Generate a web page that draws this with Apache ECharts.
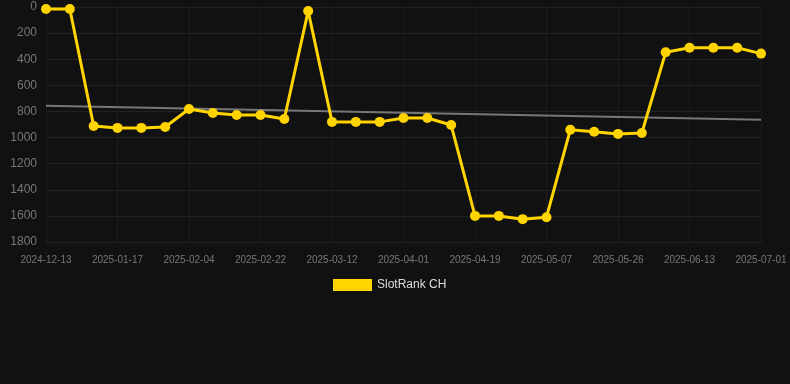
<!DOCTYPE html>
<html><head><meta charset="utf-8">
<script src="https://cdn.jsdelivr.net/npm/echarts@6/dist/echarts.min.js"></script>
<style>html,body{margin:0;padding:0;background:#111111;}#c{width:790px;height:384px;}</style>
</head><body><div id="c"></div>
<script>
const categories = ["2024-12-13","2025-01-05","2025-01-11","2025-01-17","2025-01-23","2025-01-29","2025-02-04","2025-02-10","2025-02-16","2025-02-22","2025-02-28","2025-03-06","2025-03-12","2025-03-18","2025-03-25","2025-04-01","2025-04-07","2025-04-13","2025-04-19","2025-04-25","2025-05-01","2025-05-07","2025-05-13","2025-05-20","2025-05-26","2025-06-01","2025-06-07","2025-06-13","2025-06-19","2025-06-25","2025-07-01"];
const rankValues = [15,15,911,926,926,919,781,812,827,827,858,31,880,880,880,850,850,904,1600,1600,1625,1610,940,955,972,965,347,312,312,312,357];
const trendStart = 756;
const trendEnd = 863;
const yTicks = {min:0, max:1800, interval:200};
const seriesName = "SlotRank CH";

const trendData = categories.map((c,i)=> i===0 ? trendStart : (i===categories.length-1 ? trendEnd : null));

const chart = echarts.init(document.getElementById('c'));
chart.setOption({
  backgroundColor:'#111111',
  animation:false,
  grid:{left:46,right:29,top:7,bottom:142,containLabel:false},
  legend:{
    data:[{name:seriesName, icon:'rect'}],
    top:274, left:328, padding:5,
    itemWidth:39, itemHeight:12, itemGap:10,
    textStyle:{color:'#dddddd', fontSize:12, fontFamily:'Liberation Sans, Arial, sans-serif'}
  },
  xAxis:{
    type:'category', data:categories, boundaryGap:false,
    axisLine:{show:false}, axisTick:{show:false},
    axisLabel:{color:'#777777', fontSize:10, interval:2, margin:13, fontFamily:'Liberation Sans, Arial, sans-serif'},
    splitLine:{show:true, interval:2, lineStyle:{color:'#1c1c1c', width:1}}
  },
  yAxis:{
    type:'value', inverse:true, min:yTicks.min, max:yTicks.max, interval:yTicks.interval,
    axisLine:{show:false}, axisTick:{show:false},
    axisLabel:{color:'#777777', fontSize:12, margin:9, formatter:(v)=>String(v), fontFamily:'Liberation Sans, Arial, sans-serif'},
    splitLine:{show:true, lineStyle:{color:'#222222', width:1}}
  },
  series:[
    {
      name:seriesName, type:'line', data:rankValues,
      symbol:'circle', symbolSize:10,
      lineStyle:{color:'#FFD400', width:3},
      itemStyle:{color:'#FFD400'},
      z:3
    },
    {
      name:'trend', type:'line', data:trendData, connectNulls:true,
      symbol:'none', lineStyle:{color:'#777777', width:2},
      z:2, silent:true
    }
  ]
});
</script></body></html>
